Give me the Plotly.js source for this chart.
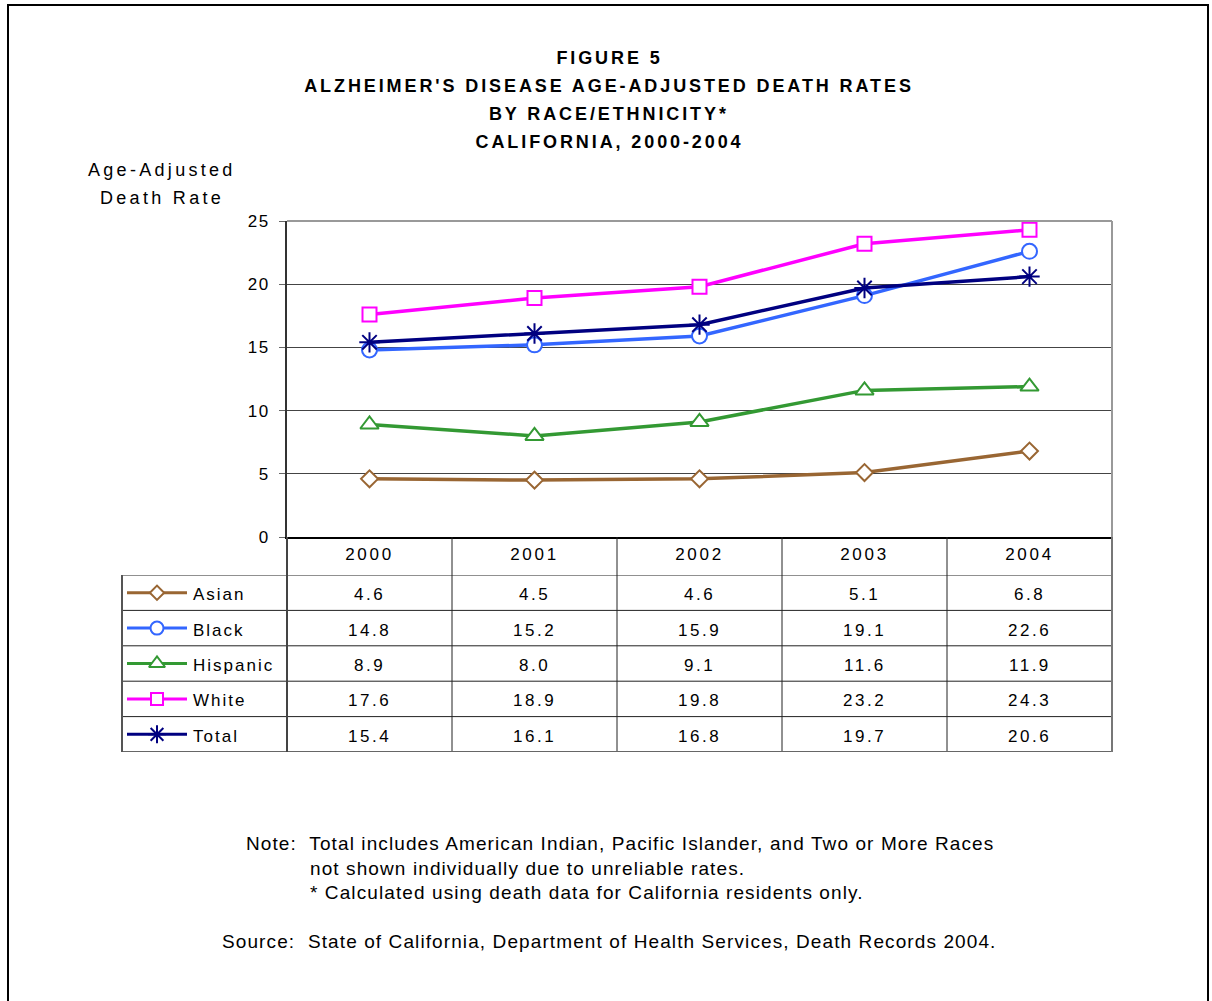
<!DOCTYPE html>
<html>
<head>
<meta charset="utf-8">
<script src="https://cdn.plot.ly/plotly-3.0.1.min.js"></script>
<style>
html,body{margin:0;padding:0;background:#fff;}
#chart{width:1212px;height:1001px;}
#chart .annotation[data-index="0"] text,
#chart .annotation[data-index="1"] text,
#chart .annotation[data-index="2"] text,
#chart .annotation[data-index="3"] text{letter-spacing:2.9px;}
</style>
</head>
<body>
<div id="chart"></div>
<script>
// ---- data ----
const years = ['2000', '2001', '2002', '2003', '2004'];
const seriesNames = ['Asian', 'Black', 'Hispanic', 'White', 'Total'];
const asian = [4.6, 4.5, 4.6, 5.1, 6.8];
const black = [14.8, 15.2, 15.9, 19.1, 22.6];
const hispanic = [8.9, 8.0, 9.1, 11.6, 11.9];
const white = [17.6, 18.9, 19.8, 23.2, 24.3];
const total = [15.4, 16.1, 16.8, 19.7, 20.6];
const yTicks = [0, 5, 10, 15, 20, 25];
const titleLines = ['FIGURE 5', "ALZHEIMER'S DISEASE AGE-ADJUSTED DEATH RATES", 'BY RACE/ETHNICITY*', 'CALIFORNIA, 2000-2004'];
const yTitleLines = ['Age-Adjusted', 'Death Rate'];
const noteLines = ['Note:  Total includes American Indian, Pacific Islander, and Two or More Races',
                   'not shown individually due to unreliable rates.',
                   '* Calculated using death data for California residents only.'];
const sourceLine = 'Source:  State of California, Department of Health Services, Death Records 2004.';

// ---- styles ----
const values = [asian, black, hispanic, white, total];
const colors = ['#996633', '#3366ff', '#339933', '#ff00ff', '#000080'];
const symbols = ['diamond', 'circle', 'triangle-up', 'square', 'asterisk-open'];
const sizes = [13, 15, 16, 14, 17];

const W = 1212, H = 1001;
const px = v => v / W;
const py = v => 1 - v / H;
const FONT = 'Liberation Sans, Arial, sans-serif';
const sp = (t, s) => '<span style="letter-spacing:' + s + 'px">' + t + '</span>';

const traces = [];
values.forEach((vals, i) => {
  const open = symbols[i].endsWith('-open');
  traces.push({
    x: years, y: vals, type: 'scatter', mode: 'lines+markers', name: seriesNames[i],
    line: {color: colors[i], width: 3.5},
    marker: {symbol: symbols[i], size: sizes[i], color: open ? colors[i] : '#ffffff',
             line: {color: colors[i], width: 2}},
    showlegend: false, hoverinfo: 'skip', cliponaxis: false
  });
});
// legend swatches in table first column
values.forEach((vals, i) => {
  const open = symbols[i].endsWith('-open');
  traces.push({
    x: [0, 0.5, 1], y: [i, i, i], xaxis: 'x2', yaxis: 'y2', type: 'scatter',
    mode: 'lines', line: {color: colors[i], width: 3}, showlegend: false, hoverinfo: 'skip'
  });
  traces.push({
    x: [0.5], y: [i], xaxis: 'x2', yaxis: 'y2', type: 'scatter', mode: 'markers',
    marker: {symbol: symbols[i], size: sizes[i] - 2, color: open ? colors[i] : '#ffffff',
             line: {color: colors[i], width: 2}},
    showlegend: false, hoverinfo: 'skip', cliponaxis: false
  });
});

const annotations = [];
titleLines.forEach((t, i) => {
  annotations.push({text: '<b>' + t + '</b>', xref: 'paper', yref: 'paper', x: px(609), y: py(58 + 28 * i),
    xanchor: 'center', yanchor: 'middle', showarrow: false,
    font: {family: FONT, size: 18, color: '#000'}});
});
yTitleLines.forEach((t, i) => {
  annotations.push({text: sp(t, 3.3), xref: 'paper', yref: 'paper', x: px(162), y: py(170 + 28 * i),
    xanchor: 'center', yanchor: 'middle', showarrow: false,
    font: {family: FONT, size: 18, color: '#000'}});
});
// row labels
seriesNames.forEach((n, i) => {
  annotations.push({text: sp(n, 2), xref: 'paper', yref: 'y2', x: px(191), y: i, yshift: -2,
    xanchor: 'left', yanchor: 'middle', showarrow: false,
    font: {family: FONT, size: 17, color: '#000'}});
});
// data values
values.forEach((vals, i) => {
  vals.forEach((v, j) => {
    annotations.push({text: sp(v.toFixed(1), 2.5), xref: 'x', yref: 'y2', x: j, y: i, yshift: -2,
      xanchor: 'center', yanchor: 'middle', showarrow: false,
      font: {family: FONT, size: 17, color: '#000'}});
  });
});
// notes
const nf = {family: FONT, size: 19, color: '#000'};
annotations.push({text: sp(noteLines[0], 1.1), xref: 'paper', yref: 'paper', x: px(244), y: py(843), xanchor: 'left', yanchor: 'middle', showarrow: false, font: nf});
annotations.push({text: sp(noteLines[1], 1.1), xref: 'paper', yref: 'paper', x: px(308), y: py(868), xanchor: 'left', yanchor: 'middle', showarrow: false, font: nf});
annotations.push({text: sp(noteLines[2], 1.1), xref: 'paper', yref: 'paper', x: px(308), y: py(892), xanchor: 'left', yanchor: 'middle', showarrow: false, font: nf});
annotations.push({text: sp(sourceLine, 1.1), xref: 'paper', yref: 'paper', x: px(220), y: py(941), xanchor: 'left', yanchor: 'middle', showarrow: false, font: nf});

const shapes = [];
// outer frame
shapes.push({type: 'rect', xref: 'paper', yref: 'paper', x0: px(8), x1: px(1208), y0: py(1010), y1: py(5), line: {color: '#000', width: 2}});
// plot area top/right border (gray)
shapes.push({type: 'line', xref: 'paper', yref: 'paper', x0: px(287), x1: px(1112), y0: py(221), y1: py(221), line: {color: '#999', width: 2}});
shapes.push({type: 'line', xref: 'paper', yref: 'paper', x0: px(1112), x1: px(1112), y0: py(221), y1: py(537), line: {color: '#999', width: 2}});
// table horizontal lines
for (let r = 0; r <= seriesNames.length; r++) {
  shapes.push({type: 'line', xref: 'paper', yref: 'y2', x0: px(122), x1: px(1112), y0: r - 0.5, y1: r - 0.5,
    line: {color: r === seriesNames.length ? '#666' : '#222', width: r === seriesNames.length ? 2 : 1}});
}
// table vertical lines between years
for (let c = 0; c < years.length - 1; c++) {
  shapes.push({type: 'line', xref: 'x', yref: 'paper', x0: c + 0.5, x1: c + 0.5, y0: py(537), y1: py(751), line: {color: '#222', width: 1}});
}
// table right and left edges
shapes.push({type: 'line', xref: 'paper', yref: 'paper', x0: px(1112), x1: px(1112), y0: py(537), y1: py(752), line: {color: '#777', width: 2}});
shapes.push({type: 'line', xref: 'paper', yref: 'paper', x0: px(122), x1: px(122), y0: py(575), y1: py(752), line: {color: '#555', width: 2}});
// axis line continuing through table
shapes.push({type: 'line', xref: 'paper', yref: 'paper', x0: px(287), x1: px(287), y0: py(537), y1: py(752), line: {color: '#444', width: 2}});

const layout = {
  width: W, height: H,
  margin: {l: 0, r: 0, t: 0, b: 0},
  paper_bgcolor: '#fff', plot_bgcolor: '#fff',
  showlegend: false,
  font: {family: FONT, size: 17, color: '#000'},
  xaxis: {
    domain: [px(287), px(1112)], type: 'category', categoryorder: 'array', categoryarray: years,
    tickvals: years, ticktext: years.map(y => sp(y, 2.7)),
    range: [-0.5, 4.5], showgrid: false, zeroline: false,
    showline: true, linecolor: '#000', linewidth: 2,
    ticks: '', ticklabelstandoff: 1, tickfont: {family: FONT, size: 17, color: '#000'}, fixedrange: true
  },
  yaxis: {
    domain: [py(537), py(221)], range: [0, 25], tickvals: yTicks, ticktext: yTicks.map(v => sp(String(v), 1.5)),
    showgrid: true, gridcolor: '#444', gridwidth: 1, zeroline: false,
    showline: true, linecolor: '#333', linewidth: 2,
    ticks: 'outside', ticklen: 6, tickcolor: '#666', tickwidth: 1, ticklabelstandoff: 6,
    tickfont: {family: FONT, size: 17, color: '#000'}, fixedrange: true
  },
  xaxis2: {domain: [px(127), px(187)], range: [0, 1], anchor: 'y2', visible: false, fixedrange: true},
  yaxis2: {domain: [py(752), py(575)], range: [4.5, -0.5], anchor: 'x2', visible: false, fixedrange: true},
  annotations: annotations,
  shapes: shapes
};

Plotly.newPlot('chart', traces, layout, {staticPlot: true, displayModeBar: false});
</script>
</body>
</html>
